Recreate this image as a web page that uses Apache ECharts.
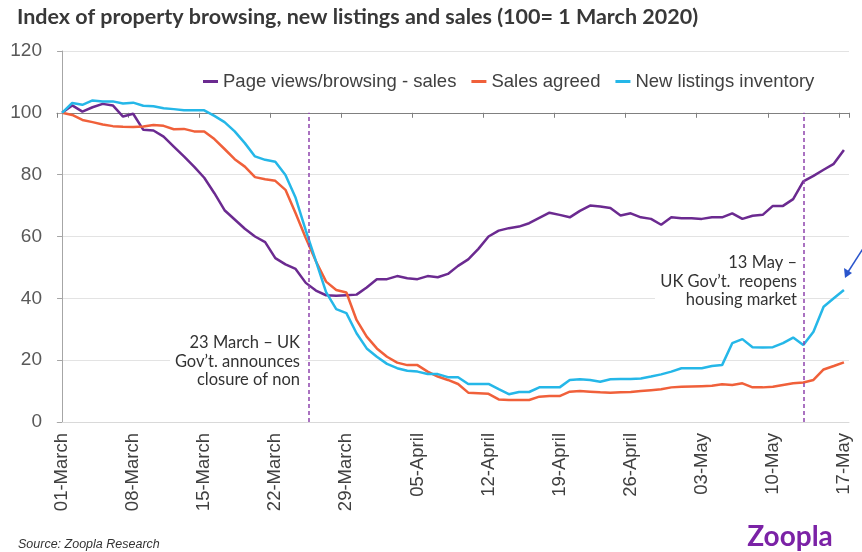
<!DOCTYPE html>
<html>
<head>
<meta charset="utf-8">
<script src="https://cdn.jsdelivr.net/npm/echarts@6/dist/echarts.min.js"></script>
<style>
  html, body { margin: 0; padding: 0; background: #fff; }
  #chart { width: 862px; height: 552px; }
</style>
</head>
<body>
<div id="chart"></div>
<script>
// days from 1 March to 17 May 2020
const days = [
  '01-March', '02-March', '03-March', '04-March', '05-March', '06-March', '07-March',
  '08-March', '09-March', '10-March', '11-March', '12-March', '13-March', '14-March',
  '15-March', '16-March', '17-March', '18-March', '19-March', '20-March', '21-March',
  '22-March', '23-March', '24-March', '25-March', '26-March', '27-March', '28-March',
  '29-March', '30-March', '31-March', '01-April', '02-April', '03-April', '04-April',
  '05-April', '06-April', '07-April', '08-April', '09-April', '10-April', '11-April',
  '12-April', '13-April', '14-April', '15-April', '16-April', '17-April', '18-April',
  '19-April', '20-April', '21-April', '22-April', '23-April', '24-April', '25-April',
  '26-April', '27-April', '28-April', '29-April', '30-April', '01-May', '02-May',
  '03-May', '04-May', '05-May', '06-May', '07-May', '08-May', '09-May',
  '10-May', '11-May', '12-May', '13-May', '14-May', '15-May', '16-May',
  '17-May'
]

const pageViews = [
  100, 102.4, 100.4, 101.8, 102.9, 102.4, 98.8, 99.7, 94.5, 94.3,
  92.3, 89.1, 85.9, 82.6, 79, 74, 68.5, 65.5, 62.5, 60,
  58.2, 53, 51, 49.5, 45, 42.5, 41, 40.8, 41, 41.2,
  43.5, 46.2, 46.2, 47.2, 46.5, 46.2, 47.2, 46.8, 47.9, 50.5,
  52.6, 56, 60, 61.9, 62.7, 63.2, 64.3, 66, 67.7, 67,
  66.2, 68.3, 70, 69.7, 69.2, 66.8, 67.5, 66.2, 65.7, 63.8,
  66.2, 65.9, 65.9, 65.7, 66.2, 66.2, 67.5, 65.7, 66.7, 67,
  69.9, 69.9, 72.1, 77.8, 79.6, 81.6, 83.5, 88
]

const salesAgreed = [
  100, 99.3, 97.7, 97, 96.2, 95.7, 95.5, 95.4, 95.6, 96.1,
  95.8, 94.7, 94.8, 94, 94, 91.5, 88.3, 85, 82.6, 79.2,
  78.5, 78, 75.1, 67.5, 59.5, 52, 45.4, 42.7, 41.9, 33,
  27.6, 23.8, 21.1, 19.2, 18.4, 18.4, 16.3, 14.7, 13.6, 12.3,
  9.5, 9.3, 9.1, 7.3, 7.1, 7.1, 7.1, 8.2, 8.4, 8.4,
  9.8, 10, 9.8, 9.6, 9.5, 9.6, 9.7, 10, 10.3, 10.6,
  11.2, 11.4, 11.5, 11.6, 11.7, 12.2, 12, 12.5, 11.2, 11.2,
  11.4, 12, 12.5, 12.8, 13.6, 17, 18.1, 19.3
]

const newListings = [
  100, 103.2, 102.6, 104, 103.7, 103.7, 103, 103.3, 102.3, 102.1,
  101.5, 101.2, 100.8, 100.8, 100.8, 99, 97, 94, 90.2, 85.9,
  84.8, 84.2, 79.9, 72.5, 62, 52, 42, 36.5, 35.2, 28.7,
  23.8, 21.1, 18.8, 17.4, 16.6, 16.3, 15.5, 15.5, 14.5, 14.5,
  12.3, 12.3, 12.3, 10.6, 9, 9.7, 9.7, 11.2, 11.2, 11.2,
  13.6, 13.8, 13.6, 13, 13.8, 13.9, 13.9, 14.1, 14.7, 15.4,
  16.3, 17.4, 17.4, 17.4, 18.1, 18.4, 25.5, 26.8, 24.2, 24.1,
  24.2, 25.5, 27.3, 24.9, 29.2, 37.3, 40, 42.7
]

// event markers (day index on the date axis)
const lockdownDay = 24.3
const reopenDay = 73

const myChart = echarts.init(document.getElementById('chart'))

const option = {
  animation: false,
  title: {
    text: 'Index of property browsing, new listings and sales (100= 1 March 2020)',
    left: 12,
    top: 1,
    textStyle: {
      fontFamily: 'Lato',
      fontWeight: 'bold',
      fontSize: 21.5,
      color: '#383838'
    }
  },
  legend: {
    left: 203,
    top: 72,
    padding: 0,
    itemWidth: 15,
    itemHeight: 3,
    itemGap: 15,
    icon: 'rect',
    textStyle: {
      fontFamily: 'Liberation Sans',
      fontSize: 18.5,
      color: '#404040'
    },
    data: ['Page views/browsing - sales', 'Sales agreed', 'New listings inventory']
  },
  grid: {
    left: 57,
    right: 13,
    top: 51,
    bottom: 130
  },
  xAxis: [
    {
      type: 'category',
      data: days,
      boundaryGap: true,
      axisLine: { lineStyle: { color: '#d9d9d9', width: 1 } },
      axisTick: { show: false },
      axisLabel: {
        interval: 6,
        rotate: 90,
        margin: 11,
        fontFamily: 'Liberation Sans',
        fontSize: 18.5,
        color: '#404040'
      }
    },
    {
      // axis line drawn across the 100 level
      type: 'category',
      data: days,
      boundaryGap: true,
      position: 'bottom',
      offset: -309.2,
      axisLine: { lineStyle: { color: '#808080', width: 1 } },
      axisTick: { show: true, interval: 6, length: 5, lineStyle: { color: '#808080' } },
      axisLabel: { show: false },
      splitLine: { show: false }
    },
    {
      type: 'value',
      min: -0.5,
      max: 77.5,
      show: false
    }
  ],
  yAxis: {
    type: 'value',
    min: 0,
    max: 120,
    interval: 20,
    axisLine: { show: true, lineStyle: { color: '#a6a6a6' } },
    axisTick: { show: true, length: 5, lineStyle: { color: '#a6a6a6' } },
    axisLabel: {
      margin: 15,
      fontFamily: 'Liberation Sans',
      fontSize: 19,
      color: '#595959'
    },
    splitLine: { lineStyle: { color: '#e3e3e3', width: 1 } }
  },
  series: [
    {
      name: 'Page views/browsing - sales',
      type: 'line',
      data: pageViews,
      symbol: 'none',
      lineStyle: { color: '#6b2a90', width: 2.5 },
      itemStyle: { color: '#6b2a90' },
      z: 3
    },
    {
      name: 'Sales agreed',
      type: 'line',
      data: salesAgreed,
      symbol: 'none',
      lineStyle: { color: '#f0603a', width: 2.5 },
      itemStyle: { color: '#f0603a' },
      z: 3
    },
    {
      name: 'New listings inventory',
      type: 'line',
      data: newListings,
      symbol: 'none',
      lineStyle: { color: '#25b7e8', width: 2.5 },
      itemStyle: { color: '#25b7e8' },
      z: 3
    },
    {
      // dashed event lines
      type: 'line',
      xAxisIndex: 2,
      data: [[0, 100]],
      symbol: 'none',
      lineStyle: { opacity: 0 },
      silent: true,
      markLine: {
        silent: true,
        symbol: 'none',
        label: { show: false },
        lineStyle: { color: '#8e44ad', width: 1.5, type: [4, 3] },
        data: [
          [{ coord: [lockdownDay, 0] }, { coord: [lockdownDay, 100] }],
          [{ coord: [reopenDay, 0] }, { coord: [reopenDay, 100] }]
        ]
      }
    }
  ],
  graphic: [
    { type: 'rect', z: 5, shape: { x: 170, y: 332, width: 135, height: 58 }, style: { fill: '#fff' } },
    { type: 'text', z: 6, x: 300, y: 343, style: { text: '23 March \u2013 UK', align: 'right', verticalAlign: 'middle', font: '16.5px Lato', fill: '#333' } },
    { type: 'text', z: 6, x: 300, y: 362, style: { text: 'Gov\u2019t. announces', align: 'right', verticalAlign: 'middle', font: '16.5px Lato', fill: '#333' } },
    { type: 'text', z: 6, x: 300, y: 380, style: { text: 'closure of non', align: 'right', verticalAlign: 'middle', font: '16.5px Lato', fill: '#333' } },
    { type: 'rect', z: 5, shape: { x: 655, y: 252, width: 145, height: 58 }, style: { fill: '#fff' } },
    { type: 'text', z: 6, x: 797, y: 263, style: { text: '13 May \u2013', align: 'right', verticalAlign: 'middle', font: '16.5px Lato', fill: '#333' } },
    { type: 'text', z: 6, x: 797, y: 282, style: { text: 'UK Gov\u2019t.  reopens', align: 'right', verticalAlign: 'middle', font: '16.5px Lato', fill: '#333' } },
    { type: 'text', z: 6, x: 797, y: 300, style: { text: 'housing market', align: 'right', verticalAlign: 'middle', font: '16.5px Lato', fill: '#333' } },
    { type: 'line', z: 6, shape: { x1: 866, y1: 244, x2: 848, y2: 272 }, style: { stroke: '#2a55cc', lineWidth: 1.5 } },
    { type: 'polygon', z: 6, shape: { points: [[845, 278], [844, 268], [852, 273]] }, style: { fill: '#2a55cc' } },
    { type: 'text', x: 18, y: 545, style: { text: 'Source: Zoopla Research', verticalAlign: 'middle', font: 'italic 12.5px "Liberation Sans"', fill: '#333' } },
    { type: 'text', x: 790, y: 537, style: { text: 'Zoopla', align: 'center', verticalAlign: 'middle', font: 'bold 28px Lato', fill: '#7b22a6' } }
  ]
}

myChart.setOption(option)
</script>
</body>
</html>
